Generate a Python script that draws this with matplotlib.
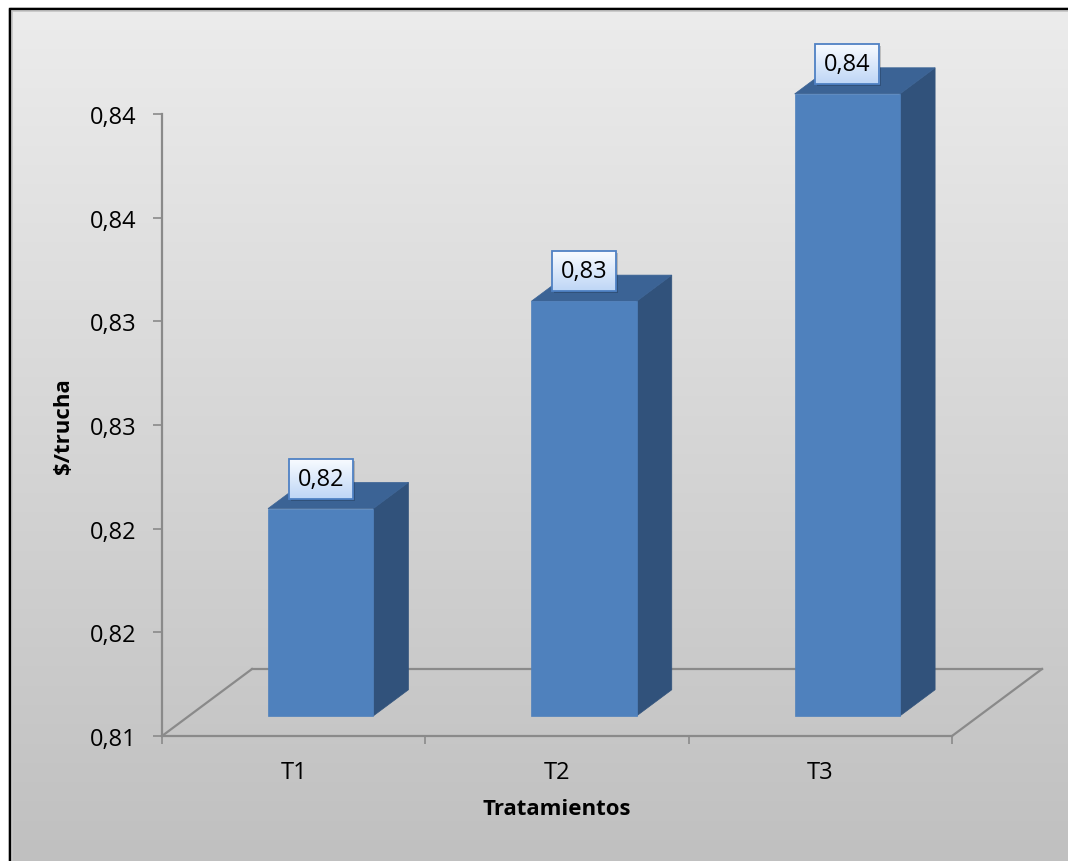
import matplotlib
matplotlib.use("Agg")
import matplotlib.pyplot as plt
from matplotlib.patches import Polygon, Rectangle
import numpy as np

plt.rcParams['font.family'] = ['Open Sans', 'DejaVu Sans']

# --- data ---
categories = ["T1", "T2", "T3"]
values = [0.82, 0.83, 0.84]
value_labels = ["0,82", "0,83", "0,84"]
y_ticks = [0.81, 0.815, 0.82, 0.825, 0.83, 0.835, 0.84]
y_tick_labels = ["0,81", "0,82", "0,82", "0,83", "0,83", "0,84", "0,84"]
y_min, y_max = 0.81, 0.84

# --- style ---
W, H = 1068, 862
axis_grey = "#8a8a8a"
front_col = "#4f81bd"
side_col = "#31527b"
top_col = "#3b6395"
floor_dx_px, floor_dy_px = 90, 67     # oblique depth of the floor
depth0, depth1 = 0.30, 0.69           # bar front/back inside the floor depth
bar_w = 0.40
fs = 17

fig = plt.figure(figsize=(W / 100, H / 100), dpi=100)

# chart area background with vertical gradient and frame
bg = fig.add_axes([0, 0, 1, 1])
bg.set_xlim(0, W)
bg.set_ylim(H, 0)
bg.axis("off")
grad = np.linspace(236, 192, 256)[:, None] / 255.0
bg.imshow(np.dstack([grad, grad, grad]), extent=[10, W, H, 10], aspect="auto",
          interpolation="bicubic")
bg.plot([10, 10], [H, 10], color="#c8c8c8", lw=3.5, solid_capstyle="butt")
bg.plot([10, W], [10, 10], color="#c8c8c8", lw=3.5, solid_capstyle="butt")
bg.plot([10, 10], [H, 10], color="black", lw=1.6, solid_capstyle="projecting")
bg.plot([10, W], [10, 10], color="black", lw=1.6, solid_capstyle="projecting")

ax_left, ax_bottom, ax_w, ax_h = 162, 125, 790, 622
ax = fig.add_axes([ax_left / W, ax_bottom / H, ax_w / W, ax_h / H])
ax.set_xlim(0, len(categories))
ax.set_ylim(y_min, y_max)
ax.patch.set_visible(False)

# pixel -> data conversions
px_x = len(categories) / ax_w
px_y = (y_max - y_min) / ax_h
fdx = floor_dx_px * px_x
fdy = floor_dy_px * px_y

for s in ("top", "right"):
    ax.spines[s].set_visible(False)
for s in ("left", "bottom"):
    ax.spines[s].set_color(axis_grey)
    ax.spines[s].set_linewidth(1.6)

# floor outline (back edge and side diagonals)
n = len(categories)
floor_kw = dict(color=axis_grey, lw=1.6, clip_on=False, zorder=1)
ax.plot([fdx, n + fdx], [y_min + fdy, y_min + fdy], **floor_kw)
ax.plot([0, fdx], [y_min, y_min + fdy], **floor_kw)
ax.plot([n, n + fdx], [y_min, y_min + fdy], **floor_kw)

# 3D bars
ddx = (depth1 - depth0) * fdx
ddy = (depth1 - depth0) * fdy
for i, v in enumerate(values):
    x0 = i + 0.5 - bar_w / 2 + depth0 * fdx
    x1 = x0 + bar_w
    y0 = y_min + depth0 * fdy
    y1 = v + depth0 * fdy
    front = [(x0, y0), (x1, y0), (x1, y1), (x0, y1)]
    side = [(x1, y0), (x1 + ddx, y0 + ddy), (x1 + ddx, y1 + ddy), (x1, y1)]
    top = [(x0, y1), (x1, y1), (x1 + ddx, y1 + ddy), (x0 + ddx, y1 + ddy)]
    for pts, col in ((side, side_col), (top, top_col), (front, front_col)):
        ax.add_patch(Polygon(pts, closed=True, facecolor=col, edgecolor=col,
                             lw=0.5, clip_on=False, zorder=3))

    # value label box above the bar
    cx = (x0 + x1) / 2
    bw, bh = 64 * px_x, 40 * px_y
    by = y1 + 10 * px_y
    shadow = Rectangle((cx - bw / 2 + 2 * px_x, by - 2 * px_y), bw, bh,
                       facecolor="#000000", alpha=0.18, lw=0, clip_on=False,
                       zorder=4)
    ax.add_patch(shadow)
    g = np.linspace(0, 1, 64)[:, None]
    top_c = np.array([248, 251, 255]) / 255.0
    bot_c = np.array([190, 214, 246]) / 255.0
    img = top_c * (1 - g[..., None]) + bot_c * g[..., None]
    ax.imshow(img, extent=[cx - bw / 2, cx + bw / 2, by, by + bh],
              aspect="auto", zorder=5, clip_on=False, interpolation="bilinear")
    ax.add_patch(Rectangle((cx - bw / 2, by), bw, bh, facecolor="none",
                           edgecolor="#4f81c4", lw=1.3, clip_on=False,
                           zorder=6))
    ax.text(cx, by + bh / 2, value_labels[i], ha="center", va="center",
            fontsize=fs, color="black", zorder=7, clip_on=False)

ax.set_xlim(0, n)
ax.set_ylim(y_min, y_max)

# y axis ticks
ax.set_yticks(y_ticks)
ax.set_yticklabels(y_tick_labels, fontsize=fs)
ax.tick_params(axis="y", direction="out", length=6.5, width=1.2,
               color=axis_grey, pad=12)

# x axis: boundary ticks, category names centred
ax.set_xticks(np.arange(n + 1))
ax.set_xticklabels([])
ax.tick_params(axis="x", which="major", direction="out", length=6, width=1.2,
               color=axis_grey)
ax.set_xticks(np.arange(n) + 0.5, minor=True)
ax.set_xticklabels(categories, minor=True, fontsize=fs)
ax.tick_params(axis="x", which="minor", length=0, pad=17)

ax.set_ylabel(r"\$/trucha", fontsize=16, fontweight="bold")
ax.yaxis.set_label_coords(-0.112, 0.5)
ax.set_xlabel("Tratamientos", fontsize=16, fontweight="bold")
ax.xaxis.set_label_coords(0.5, -0.100)

fig.savefig("out.png", dpi=100)
